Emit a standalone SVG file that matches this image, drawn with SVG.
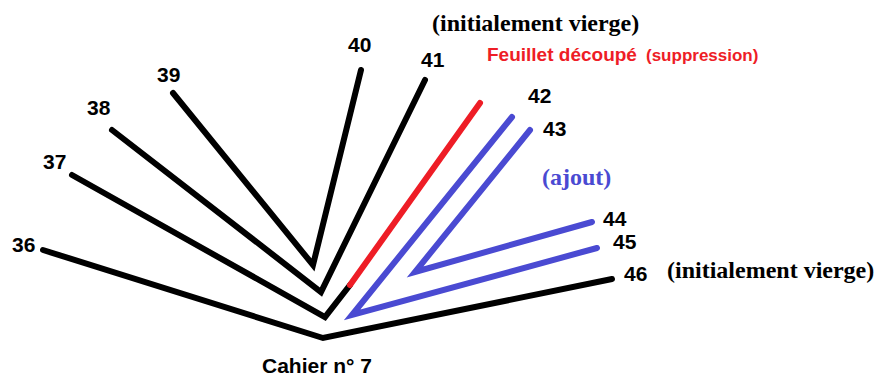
<svg xmlns="http://www.w3.org/2000/svg" width="879" height="378" viewBox="0 0 879 378">
<style>
.ln{fill:none;stroke-width:6;stroke-linecap:round;stroke-linejoin:miter}
.k{stroke:#000}
.r{stroke:#ee1d26}
.b{stroke:#4a4ad2}
.num{font-family:"Liberation Sans",Arial,sans-serif;font-weight:bold;font-size:21px;fill:#000}
.tm{font-family:"Liberation Serif","Times New Roman",serif;font-weight:bold;font-size:24px;fill:#000}
</style>
<rect width="879" height="378" fill="#fff"/>
<g id="connectors">
<polyline class="ln k" points="43,250 323,338 612,279"/>
<polyline class="ln k" points="72,175 325,317 350,285"/>
<line class="ln r" x1="350" y1="285" x2="480" y2="103"/>
<polyline class="ln k" points="112,130 321,292 425,80"/>
<polyline class="ln k" points="173,93 313,265 361,70"/>
<polyline class="ln b" points="512,117 352,315 597,248"/>
<polyline class="ln b" points="530,130 415,272 592,222"/>
</g>
<g id="n36"><text class="num" x="12" y="252">36</text></g>
<g id="n37"><text class="num" x="43" y="169">37</text></g>
<g id="n38"><text class="num" x="87" y="115">38</text></g>
<g id="n39"><text class="num" x="157" y="82">39</text></g>
<g id="n40"><text class="num" x="348" y="52">40</text></g>
<g id="n41"><text class="num" x="421" y="67">41</text></g>
<g id="n42"><text class="num" x="528" y="103">42</text></g>
<g id="n43"><text class="num" x="543" y="136">43</text></g>
<g id="n44"><text class="num" x="603" y="226">44</text></g>
<g id="n45"><text class="num" x="613" y="249">45</text></g>
<g id="n46"><text class="num" x="624" y="281">46</text></g>
<g id="label-vierge-top"><text class="tm" x="432" y="31">(initialement vierge)</text></g>
<g id="label-vierge-right"><text class="tm" x="667" y="278">(initialement vierge)</text></g>
<g id="label-ajout"><text class="tm" x="542" y="185" style="fill:#4a4ad2">(ajout)</text></g>
<g id="label-feuillet"><text font-family="Liberation Sans,Arial,sans-serif" font-weight="bold" fill="#ee1d26" y="61"><tspan x="487" font-size="19">Feuillet découpé</tspan><tspan x="646" font-size="17">(suppression)</tspan></text></g>
<g id="label-cahier"><text class="num" x="262" y="373">Cahier n° 7</text></g>
</svg>
